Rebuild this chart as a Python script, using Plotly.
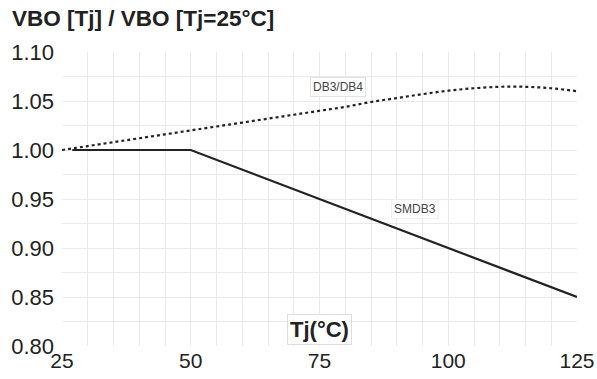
import plotly.graph_objects as go

# DB3/DB4 curve
tj_db = [25, 30, 35, 40, 45, 50, 55, 60, 65, 70, 75, 80, 85, 90, 95, 100, 105, 110, 115, 120, 125]
v_db = [1.000, 1.004, 1.008, 1.012, 1.016, 1.020, 1.024, 1.028, 1.032, 1.036, 1.040,
        1.044, 1.049, 1.053, 1.057, 1.0605, 1.063, 1.0645, 1.0645, 1.063, 1.060]
# SMDB3 curve
tj_sm = [27, 50, 125]
v_sm = [1.00, 1.00, 0.85]

x_ticks = [25, 50, 75, 100, 125]
y_ticks = [0.80, 0.85, 0.90, 0.95, 1.00, 1.05, 1.10]
y_ticklabels = ["0.80", "0.85", "0.90", "0.95", "1.00", "1.05", "1.10"]

grid = "#e9e9e9"
fam = "Liberation Sans, Arial, sans-serif"
fig = go.Figure()
fig.add_trace(go.Scatter(x=tj_db, y=v_db, mode="lines", line=dict(color="#222", width=2.2, dash="dot", shape="spline"), hoverinfo="skip"))
fig.add_trace(go.Scatter(x=tj_sm, y=v_sm, mode="lines", line=dict(color="#222", width=2.2), hoverinfo="skip"))

fig.update_layout(
    width=597, height=379,
    margin=dict(l=62, r=20, t=52, b=33),
    paper_bgcolor="white", plot_bgcolor="white",
    showlegend=False,
    font=dict(family=fam, color="#222"),
    xaxis=dict(range=[25, 125], tickvals=x_ticks, showgrid=True, gridcolor=grid, gridwidth=1,
               minor=dict(dtick=5, tick0=25, showgrid=True, gridcolor=grid, gridwidth=1),
               zeroline=False, showline=False, tickfont=dict(size=21, color="#222", family=fam),
               ticks="", automargin=False),
    yaxis=dict(range=[0.80, 1.10], tickvals=y_ticks, ticktext=y_ticklabels, showgrid=True, gridcolor=grid, gridwidth=1,
               minor=dict(dtick=0.025, tick0=0.8, showgrid=True, gridcolor=grid, gridwidth=1),
               zeroline=False, showline=False, tickfont=dict(size=22, color="#222", family=fam),
               ticks="", automargin=False, ticklabelstandoff=7),
    annotations=[
        dict(text="<b>VBO [Tj] / VBO [Tj=25°C]</b>", xref="paper", yref="paper", x=-0.101, y=1.0,
             yshift=34, xanchor="left", yanchor="middle", showarrow=False, font=dict(size=22.5, color="#222")),
        dict(text="<b>Tj(°C)</b>", x=75, y=0.817, showarrow=False, bgcolor="white",
             bordercolor="#dddddd", borderwidth=1, borderpad=2, font=dict(size=22, color="#222")),
        dict(text="DB3/DB4", x=78.6, y=1.0638, showarrow=False, bgcolor="white",
             bordercolor="#e2e2e2", borderwidth=1, borderpad=2, font=dict(size=12, color="#444")),
        dict(text="SMDB3", x=93.5, y=0.940, showarrow=False, bgcolor="white",
             bordercolor="#eeeeee", borderwidth=1, borderpad=2, font=dict(size=12, color="#444")),
    ],
)
fig.write_html("out.html", config={"displayModeBar": False},
               post_script="document.body.style.margin='0';")
